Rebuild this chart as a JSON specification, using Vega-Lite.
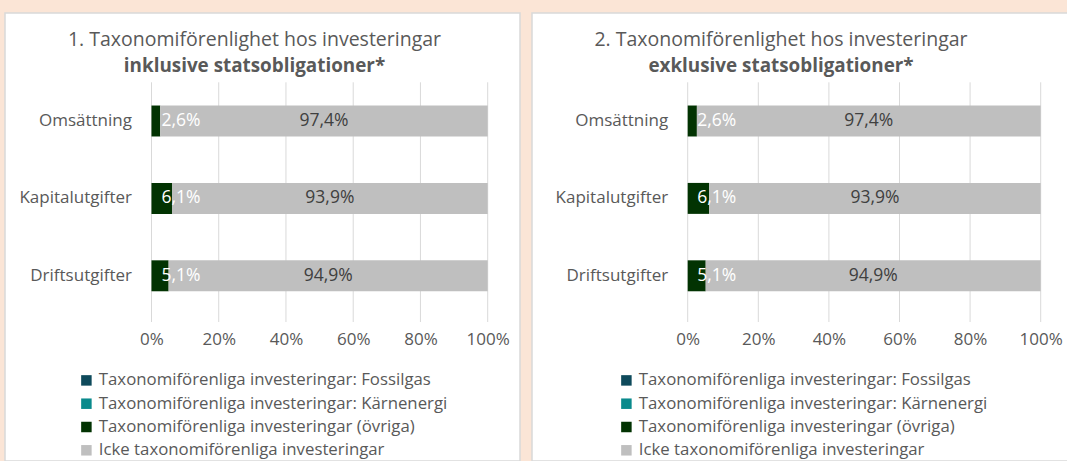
{
  "$schema": "https://vega.github.io/schema/vega-lite/v6.json",
  "background": "#FBE5D6",
  "padding": {"left": 4, "top": 12, "right": 0, "bottom": 0},
  "spacing": 10,
  "datasets": {
    "inkl": [
      {"cat": "Omsättning", "series": "Taxonomiförenliga investeringar: Fossilgas", "value": 0},
      {"cat": "Omsättning", "series": "Taxonomiförenliga investeringar: Kärnenergi", "value": 0},
      {"cat": "Omsättning", "series": "Taxonomiförenliga investeringar (övriga)", "value": 0.026},
      {"cat": "Omsättning", "series": "Icke taxonomiförenliga investeringar", "value": 0.974},
      {"cat": "Kapitalutgifter", "series": "Taxonomiförenliga investeringar: Fossilgas", "value": 0},
      {"cat": "Kapitalutgifter", "series": "Taxonomiförenliga investeringar: Kärnenergi", "value": 0},
      {"cat": "Kapitalutgifter", "series": "Taxonomiförenliga investeringar (övriga)", "value": 0.061},
      {"cat": "Kapitalutgifter", "series": "Icke taxonomiförenliga investeringar", "value": 0.939},
      {"cat": "Driftsutgifter", "series": "Taxonomiförenliga investeringar: Fossilgas", "value": 0},
      {"cat": "Driftsutgifter", "series": "Taxonomiförenliga investeringar: Kärnenergi", "value": 0},
      {"cat": "Driftsutgifter", "series": "Taxonomiförenliga investeringar (övriga)", "value": 0.051},
      {"cat": "Driftsutgifter", "series": "Icke taxonomiförenliga investeringar", "value": 0.949}
    ],
    "exkl": [
      {"cat": "Omsättning", "series": "Taxonomiförenliga investeringar: Fossilgas", "value": 0},
      {"cat": "Omsättning", "series": "Taxonomiförenliga investeringar: Kärnenergi", "value": 0},
      {"cat": "Omsättning", "series": "Taxonomiförenliga investeringar (övriga)", "value": 0.026},
      {"cat": "Omsättning", "series": "Icke taxonomiförenliga investeringar", "value": 0.974},
      {"cat": "Kapitalutgifter", "series": "Taxonomiförenliga investeringar: Fossilgas", "value": 0},
      {"cat": "Kapitalutgifter", "series": "Taxonomiförenliga investeringar: Kärnenergi", "value": 0},
      {"cat": "Kapitalutgifter", "series": "Taxonomiförenliga investeringar (övriga)", "value": 0.061},
      {"cat": "Kapitalutgifter", "series": "Icke taxonomiförenliga investeringar", "value": 0.939},
      {"cat": "Driftsutgifter", "series": "Taxonomiförenliga investeringar: Fossilgas", "value": 0},
      {"cat": "Driftsutgifter", "series": "Taxonomiförenliga investeringar: Kärnenergi", "value": 0},
      {"cat": "Driftsutgifter", "series": "Taxonomiförenliga investeringar (övriga)", "value": 0.051},
      {"cat": "Driftsutgifter", "series": "Icke taxonomiförenliga investeringar", "value": 0.949}
    ],
    "grid": [{"v": 0}, {"v": 0.2}, {"v": 0.4}, {"v": 0.6}, {"v": 0.8}, {"v": 1}]
  },
  "resolve": {"scale": {"x": "independent", "y": "independent", "color": "independent"}, "legend": {"color": "independent"}},
  "hconcat": [
    {
      "width": 515,
      "height": 448,
      "title": {"text": "1. Taxonomiförenlighet hos investeringar", "subtitle": "inklusive statsobligationer*", "dx": -8},
      "data": {"name": "inkl"},
      "encoding": {
        "y": {"field": "cat", "type": "nominal", "title": null,
          "scale": {"domain": ["Omsättning", "Kapitalutgifter", "Driftsutgifter"], "range": [69.3, 301.5], "paddingInner": 0, "paddingOuter": 0},
          "axis": {"offset": -146.5, "labelPadding": 20}},
        "x": {"field": "value", "type": "quantitative", "stack": "zero", "title": null,
          "scale": {"domain": [-0.4357, 1.0961], "nice": false, "zero": false},
          "axis": {"values": [0, 0.2, 0.4, 0.6, 0.8, 1], "format": ".0%", "offset": -134, "labelPadding": 4}},
        "order": {"field": "series", "sort": "descending"}
      },
      "layer": [
        {
          "data": {"name": "grid"},
          "mark": {"type": "rule", "color": "#D9D9D9", "strokeWidth": 1},
          "encoding": {
            "x": {"field": "v", "type": "quantitative", "title": null, "stack": null},
            "y": {"datum": "Omsättning", "type": "nominal", "bandPosition": 0},
            "y2": {"datum": "Driftsutgifter", "bandPosition": 1.097},
            "order": null
          }
        },
        {
          "mark": {"type": "bar", "height": {"band": 0.4}},
          "encoding": {
            "color": {"field": "series", "type": "nominal",
              "scale": {"domain": ["Taxonomiförenliga investeringar: Fossilgas", "Taxonomiförenliga investeringar: Kärnenergi", "Taxonomiförenliga investeringar (övriga)", "Icke taxonomiförenliga investeringar"],
                "range": ["#0E4A5B", "#0A8A8C", "#023302", "#BFBFBF"]},
              "legend": {"orient": "none", "legendX": 73, "legendY": 359}}
          }
        },
        {
          "transform": [{"filter": "datum.series == 'Taxonomiförenliga investeringar (övriga)'"}],
          "mark": {"type": "text", "align": "left", "baseline": "middle", "dx": 10, "color": "#FFFFFF", "fontSize": 17.5},
          "encoding": {
            "x": {"datum": 0, "type": "quantitative"},
            "text": {"field": "value", "type": "quantitative", "format": ".1%"}
          }
        },
        {
          "mark": {"type": "text", "align": "center", "baseline": "middle", "color": "#404040", "fontSize": 17.5},
          "encoding": {
            "x": {"field": "value", "type": "quantitative", "stack": "zero", "bandPosition": 0.5, "title": null},
            "detail": {"field": "series"},
            "text": {"condition": {"test": "datum.series == 'Icke taxonomiförenliga investeringar'", "field": "value", "type": "quantitative", "format": ".1%"}, "value": ""}
          }
        }
      ]
    },
    {
      "width": 537,
      "height": 448,
      "title": {"text": "2. Taxonomiförenlighet hos investeringar", "subtitle": "exklusive statsobligationer*", "dx": -19.5},
      "data": {"name": "exkl"},
      "encoding": {
        "y": {"field": "cat", "type": "nominal", "title": null,
          "scale": {"domain": ["Omsättning", "Kapitalutgifter", "Driftsutgifter"], "range": [69.3, 301.5], "paddingInner": 0, "paddingOuter": 0},
          "axis": {"offset": -155.7, "labelPadding": 20}},
        "x": {"field": "value", "type": "quantitative", "stack": "zero", "title": null,
          "scale": {"domain": [-0.4411, 1.0802], "nice": false, "zero": false},
          "axis": {"values": [0, 0.2, 0.4, 0.6, 0.8, 1], "format": ".0%", "offset": -134, "labelPadding": 4}},
        "order": {"field": "series", "sort": "descending"}
      },
      "layer": [
        {
          "data": {"name": "grid"},
          "mark": {"type": "rule", "color": "#D9D9D9", "strokeWidth": 1},
          "encoding": {
            "x": {"field": "v", "type": "quantitative", "title": null, "stack": null},
            "y": {"datum": "Omsättning", "type": "nominal", "bandPosition": 0},
            "y2": {"datum": "Driftsutgifter", "bandPosition": 1.097},
            "order": null
          }
        },
        {
          "mark": {"type": "bar", "height": {"band": 0.4}},
          "encoding": {
            "color": {"field": "series", "type": "nominal",
              "scale": {"domain": ["Taxonomiförenliga investeringar: Fossilgas", "Taxonomiförenliga investeringar: Kärnenergi", "Taxonomiförenliga investeringar (övriga)", "Icke taxonomiförenliga investeringar"],
                "range": ["#0E4A5B", "#0A8A8C", "#023302", "#BFBFBF"]},
              "legend": {"orient": "none", "legendX": 86, "legendY": 359}}
          }
        },
        {
          "transform": [{"filter": "datum.series == 'Taxonomiförenliga investeringar (övriga)'"}],
          "mark": {"type": "text", "align": "left", "baseline": "middle", "dx": 9.5, "color": "#FFFFFF", "fontSize": 17.5},
          "encoding": {
            "x": {"datum": 0, "type": "quantitative"},
            "text": {"field": "value", "type": "quantitative", "format": ".1%"}
          }
        },
        {
          "mark": {"type": "text", "align": "center", "baseline": "middle", "color": "#404040", "fontSize": 17.5},
          "encoding": {
            "x": {"field": "value", "type": "quantitative", "stack": "zero", "bandPosition": 0.5, "title": null},
            "detail": {"field": "series"},
            "text": {"condition": {"test": "datum.series == 'Icke taxonomiförenliga investeringar'", "field": "value", "type": "quantitative", "format": ".1%"}, "value": ""}
          }
        }
      ]
    }
  ],
  "config": {
    "font": "Open Sans",
    "locale": {"number": {"decimal": ",", "thousands": " ", "grouping": [3], "currency": ["", " kr"]}},
    "view": {"fill": "#FFFFFF", "stroke": "#D9D9D9", "strokeWidth": 1.5},
    "text": {"font": "Open Sans"},
    "axis": {"labelFont": "Open Sans", "labelFontSize": 17, "labelColor": "#595959", "domain": false, "ticks": false, "grid": false},
    "legend": {"title": null, "symbolType": "square", "symbolSize": 110, "symbolStrokeWidth": 0, "labelFont": "Open Sans", "labelFontSize": 16.8, "labelColor": "#595959", "labelLimit": 500, "rowPadding": 5.3, "labelOffset": 4, "padding": 0},
    "title": {"font": "Open Sans", "fontSize": 19.5, "fontWeight": "normal", "color": "#595959", "subtitleFont": "Open Sans", "subtitleFontSize": 18.85, "subtitleFontWeight": "bold", "subtitleColor": "#595959", "subtitlePadding": 7, "anchor": "middle", "offset": -64}
  }
}
